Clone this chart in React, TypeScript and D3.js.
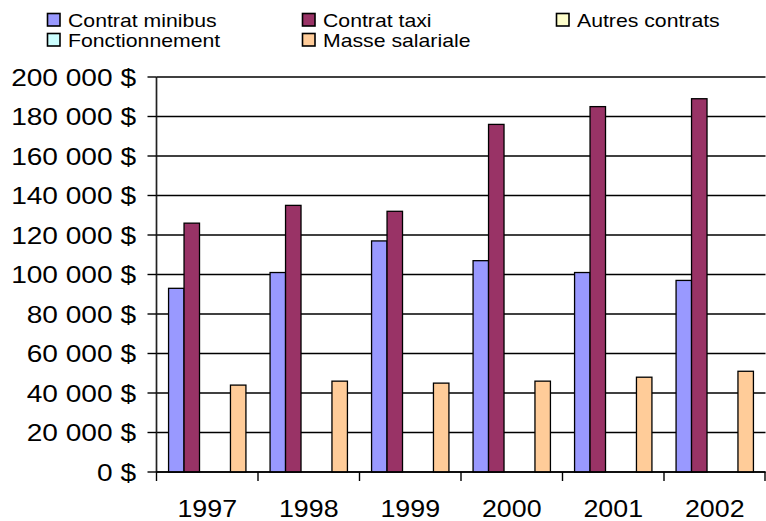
import React from "react";
import * as d3 from "d3";

const years = ["1997", "1998", "1999", "2000", "2001", "2002"];
const seriesNames = ["Contrat minibus", "Contrat taxi", "Autres contrats", "Fonctionnement", "Masse salariale"];
const seriesColors = ["#9999FF", "#993366", "#FFFFCC", "#CCFFFF", "#FFCC99"];
const contratMinibus = [93000, 101000, 117000, 107000, 101000, 97000];
const contratTaxi = [126000, 135000, 132000, 176000, 185000, 189000];
const autresContrats = [0, 0, 0, 0, 0, 0];
const fonctionnement = [0, 0, 0, 0, 0, 0];
const masseSalariale = [44000, 46000, 45000, 46000, 48000, 51000];
const yTicks = [0, 20000, 40000, 60000, 80000, 100000, 120000, 140000, 160000, 180000, 200000];

const seriesValues = [contratMinibus, contratTaxi, autresContrats, fonctionnement, masseSalariale];

const W = 766;
const H = 521;
const left = 156.5;
const right = 765.5;
const top = 77;
const bottom = 472;
const FONT = "'Liberation Sans', Arial, sans-serif";

const fmt = (v: number) => {
  const s = String(v).replace(/\B(?=(\d{3})+(?!\d))/g, " ");
  return s + " $";
};

export default function App() {
  const x0 = d3.scaleBand<string>().domain(years).range([left, right]).paddingInner(0).paddingOuter(0);
  const x1 = d3
    .scaleBand<number>()
    .domain(d3.range(seriesNames.length))
    .range([0, x0.bandwidth()])
    .paddingInner(0)
    .paddingOuter(0.78);
  const y = d3.scaleLinear().domain([0, 200000]).range([bottom, top]);

  const legendCols = [47, 302, 556];
  const legendRows = [13, 33];
  const legendPos = [
    [0, 0],
    [1, 0],
    [2, 0],
    [0, 1],
    [1, 1],
  ];

  return (
    <svg
      width={W}
      height={H}
      style={{ position: "absolute", left: 0, top: 0, background: "#fff" }}
      fontFamily={FONT}
    >
      <rect x={0} y={0} width={W} height={H} fill="#fff" />
      {/* gridlines */}
      {yTicks.map((t) => (
        <line key={"g" + t} x1={left} x2={right} y1={y(t)} y2={y(t)} stroke="#000" strokeWidth={1.4} />
      ))}
      {/* bars */}
      {years.map((yr, i) => (
        <g key={yr}>
          {seriesValues.map((vals, s) =>
            vals[i] > 0 ? (
              <rect
                key={s}
                x={(x0(yr) as number) + (x1(s) as number)}
                y={y(vals[i])}
                width={x1.bandwidth()}
                height={y(0) - y(vals[i])}
                fill={seriesColors[s]}
                stroke="#000"
                strokeWidth={1.3}
              />
            ) : null
          )}
        </g>
      ))}
      {/* y axis */}
      <line x1={left} x2={left} y1={top} y2={bottom} stroke="#222" strokeWidth={1.7} />
      {yTicks.map((t) => (
        <g key={"t" + t}>
          <line x1={left - 9} x2={left} y1={y(t)} y2={y(t)} stroke="#000" strokeWidth={1.4} />
          <text
            transform={`translate(136,${y(t) + 8.5}) scale(1.17,1)`}
            textAnchor="end"
            fontSize={24}
            fill="#000"
          >
            {fmt(t)}
          </text>
        </g>
      ))}
      {/* x axis */}
      <line x1={left} x2={right} y1={bottom} y2={bottom} stroke="#000" strokeWidth={1.4} />
      {years.map((yr) => (
        <line
          key={"xt" + yr}
          x1={x0(yr) as number}
          x2={x0(yr) as number}
          y1={bottom}
          y2={bottom + 9}
          stroke="#000"
          strokeWidth={1.4}
        />
      ))}
      <line x1={right - 0.5} x2={right - 0.5} y1={bottom} y2={bottom + 9} stroke="#000" strokeWidth={1.4} />
      {years.map((yr) => (
        <text
          key={"xl" + yr}
          transform={`translate(${(x0(yr) as number) + x0.bandwidth() / 2},517) scale(1.14,1)`}
          textAnchor="middle"
          fontSize={23.5}
          fill="#000"
        >
          {yr}
        </text>
      ))}
      {/* legend */}
      {seriesNames.map((name, s) => {
        const [c, r] = legendPos[s];
        const lx = legendCols[c];
        const ly = legendRows[r];
        return (
          <g key={name}>
            <rect x={lx + 0.5} y={ly + 0.5} width={12.5} height={12.5} fill={seriesColors[s]} stroke="#000" strokeWidth={1.6} />
            <text
              transform={`translate(${lx + 21},${ly + 13.5}) scale(1.18,1)`}
              fontSize={18}
              fill="#000"
            >
              {name}
            </text>
          </g>
        );
      })}
    </svg>
  );
}
